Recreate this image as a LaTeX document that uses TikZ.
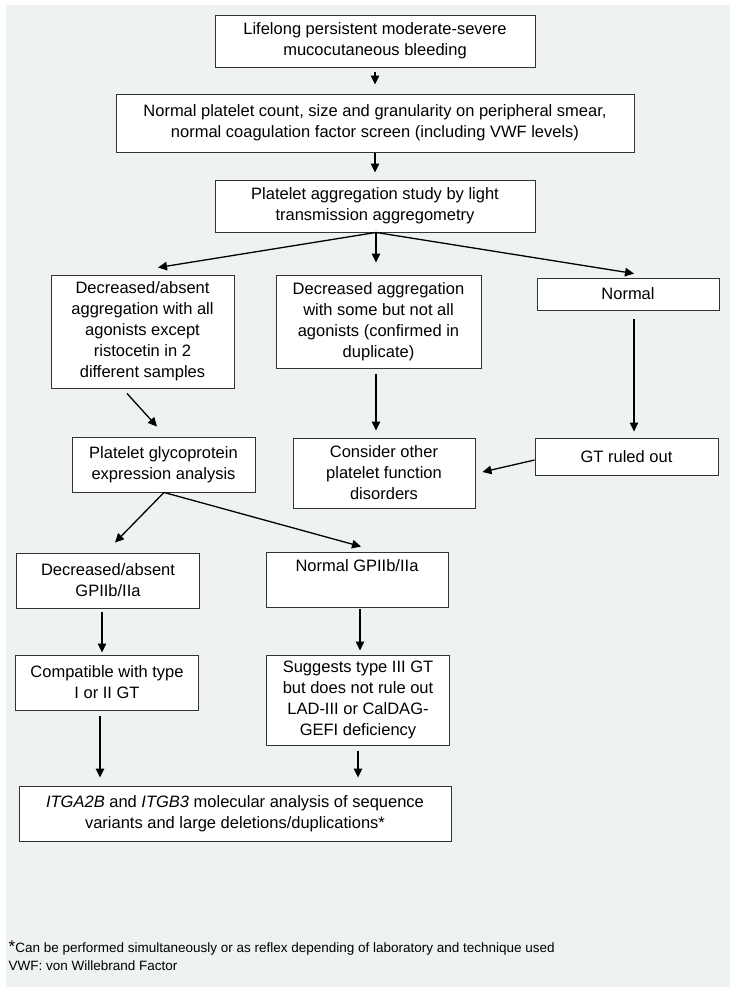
\documentclass[tikz,border=0pt]{standalone}
\usepackage{fontspec}
\setmainfont{Liberation Sans}
\usepackage{tikz}
\usetikzlibrary{calc}
\usetikzlibrary{arrows.meta}
\definecolor{bggray}{RGB}{239,242,243}
\tikzset{
box/.style={
  rectangle,
  draw=black!80,
  line width=0.9pt,
  inner sep=0pt,
  align=center,
  fill=white,
  font=\fontsize{16.5}{21}\selectfont
  }
}

\begin{document}
\begin{tikzpicture}[x=1pt,y=-1pt,>={Triangle[length=9pt,width=8.5pt]},line width=1.3pt]
        \useasboundingbox (0,0) rectangle (735,992);
        \fill[bggray] (6,5) rectangle (730,987);
        \node[box,minimum width=320pt,minimum height=52pt] at (375,41) (life) {Lifelong persistent moderate-severe\\mucocutaneous bleeding};
        \node[box,minimum width=518pt,minimum height=58pt] at (375,123) (smear) {Normal platelet count, size and granularity on peripheral smear,\\normal coagulation factor screen (including VWF levels)};
        \node[box,minimum width=320pt,minimum height=52pt] at (375,206) (lta) {Platelet aggregation study by light\\transmission aggregometry};
        \node[box,minimum width=183pt,minimum height=113pt] at (142.5,331.5) (absent) {Decreased/absent\\aggregation with all\\agonists except\\ristocetin in 2\\different samples};
        \node[box,minimum width=205pt,minimum height=93pt] at (378.5,321.5) (some) {Decreased aggregation\\with some but not all\\agonists (confirmed in\\duplicate)};
        \node[box,minimum width=182pt,minimum height=32pt] at (628,294) (normal) {Normal};
        \node[box,minimum width=183pt,minimum height=55pt] at (163.5,464.5) (glyco) {Platelet glycoprotein\\expression analysis};
        \node[box,minimum width=182pt,minimum height=70pt] at (384,473) (other) {Consider other\\platelet function\\disorders};
        \node[box,minimum width=183pt,minimum height=37pt] at (626.5,456.5) (ruled) {GT ruled out};
        \node[box,minimum width=183pt,minimum height=55pt] at (108,580.5) (lowgp) {Decreased/absent\\GPIIb/IIa};
        \node[box,minimum width=182pt,minimum height=55pt] at (357,579.5) (normgp) {Normal GPIIb/IIa\\\strut};
        \node[box,minimum width=183pt,minimum height=55pt] at (107,682.5) (compat) {Compatible with type\\I or II GT};
        \node[box,minimum width=183pt,minimum height=90pt] at (358,700) (suggest) {Suggests type III GT\\but does not rule out\\LAD-III or CalDAG-\\GEFI deficiency};
        \node[box,minimum width=432pt,minimum height=55pt] at (235,813.5) (mol) {\textit{ITGA2B} and \textit{ITGB3} molecular analysis of sequence\\variants and large deletions/duplications*};
        \node[anchor=west,align=left,inner sep=0pt,font=\fontsize{13.5}{18}\selectfont] at (8,956) (note) {{\fontsize{17}{18}\selectfont*}Can be performed simultaneously or as reflex depending of laboratory and technique used\\VWF: von Willebrand Factor};
        \path[->]
        ($(life.south)+(0,5)$) edge ($(smear.north)+(0,-9)$)
        ($(smear.south)+(0,1)$) edge ($(lta.north)+(0,-7)$)
        ($(lta.south)+(1,0)$) edge ($(absent.north)+(15.5,-7)$)
        ($(lta.south)+(1,0)$) edge ($(some.north)+(-2.5,-12)$)
        ($(lta.south)+(1,0)$) edge ($(normal.north)+(6,-4)$)
        ($(absent.south)+(-15.5,5)$) edge ($(glyco.north)+(-6.5,-10)$)
        ($(some.south)+(-2.5,6)$) edge ($(other.north)+(-8,-7)$)
        ($(normal.south)+(6,9)$) edge ($(ruled.north)+(7.5,-6)$)
        ($(ruled.west)+(0,3.5)$) edge ($(other.east)+(7,-1)$)
        ($(glyco.south)+(0.5,0)$) edge ($(lowgp.north)+(7,-10)$)
        ($(glyco.south)+(0.5,0)$) edge ($(normgp.north)+(4,-5)$)
        ($(lowgp.south)+(-6,4)$) edge ($(compat.north)+(-5,-2)$)
        ($(normgp.south)+(3,2)$) edge ($(suggest.north)+(2,-4)$)
        ($(compat.south)+(-7,6)$) edge ($(mol.north)+(-135,-8)$)
        ($(suggest.south)+(0,6)$) edge ($(mol.north)+(123,-8)$)
        ;
    \end{tikzpicture}
\end{document}
